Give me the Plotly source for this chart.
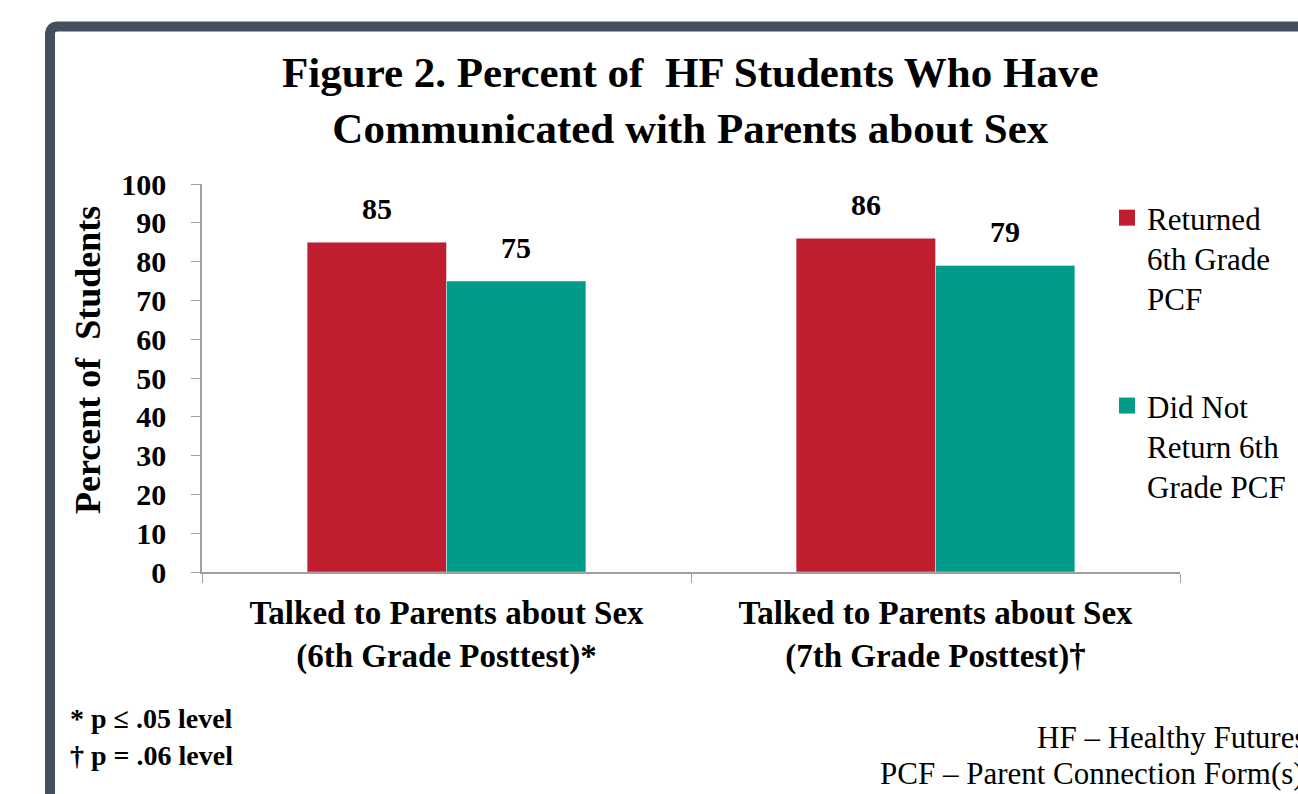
import plotly.graph_objects as go

categories = ["Talked to Parents about Sex<br>(6th Grade Posttest)*",
              "Talked to Parents about Sex<br>(7th Grade Posttest)\u2020"]
series_names = ["Returned<br>6th Grade<br>PCF", "Did Not<br>Return 6th<br>Grade PCF"]
returned = [85, 86]
not_returned = [75, 79]
colors = ["#BE1E2D", "#009B8B"]
ytickvals = [0, 10, 20, 30, 40, 50, 60, 70, 80, 90, 100]

SERIF = "serif"
W, H = 1298, 794
ML, MR, MT, MB = 202, 118, 184, 222
PW, PH = W - ML - MR, H - MT - MB
BARGAP = 0.43

def px_x(p):
    return (p - ML) / PW

def px_y(p):
    return (H - MB - p) / PH

fig = go.Figure()
for vals, name, col in [(returned, series_names[0], colors[0]),
                        (not_returned, series_names[1], colors[1])]:
    fig.add_trace(go.Bar(
        x=categories, y=vals, name=name, marker_color=col,
        showlegend=False,
    ))
bar_w_px = PW / len(categories) * (1 - BARGAP) / 2
for k, vals in enumerate([returned, not_returned]):
    for cat, v in zip(categories, vals):
        fig.add_annotation(x=cat, y=v, text=str(v), showarrow=False,
                           xshift=(k - 0.5) * bar_w_px, yshift=15, yanchor="bottom",
                           font=dict(family=SERIF, size=30, color="black", weight="bold"))
for i, (name, col) in enumerate(zip(series_names, colors)):
    fig.add_trace(go.Scatter(
        x=[None], y=[None], mode="markers", name=name,
        marker=dict(symbol="square", size=19, color=col),
        legendgroup=f"g{i}", showlegend=True,
    ))

# frame
x0 = px_x(50); yt = px_y(26.5); r = 8
fig.add_shape(type="path", xref="paper", yref="paper",
              path=(f"M {x0},{px_y(800)} L {x0},{px_y(26.5 + r)} "
                    f"Q {x0},{yt} {px_x(50 + r)},{yt} L {px_x(1310)},{yt}"),
              line=dict(color="#434F5C", width=10))

fig.add_annotation(x=px_x(690), y=px_y(100), xref="paper", yref="paper",
                   text="Figure 2. Percent of  HF Students Who Have<br>Communicated with Parents about Sex",
                   showarrow=False, xanchor="center", yanchor="middle",
                   font=dict(family=SERIF, size=43, color="black", weight="bold"))
fig.add_annotation(x=px_x(88), y=px_y(360), xref="paper", yref="paper",
                   text="Percent of  Students", textangle=-90,
                   showarrow=False, xanchor="center", yanchor="middle",
                   font=dict(family=SERIF, size=36, color="black", weight="bold"))
fig.add_annotation(x=px_x(68), y=px_y(718), xref="paper", yref="paper",
                   text="* p \u2264 .05 level", showarrow=False,
                   xanchor="left", yanchor="middle",
                   font=dict(family=SERIF, size=28, color="black", weight="bold"))
fig.add_annotation(x=px_x(68), y=px_y(755), xref="paper", yref="paper",
                   text="\u2020 p = .06 level", showarrow=False,
                   xanchor="left", yanchor="middle",
                   font=dict(family=SERIF, size=28, color="black", weight="bold"))
fig.add_annotation(x=px_x(1035), y=px_y(737), xref="paper", yref="paper",
                   text="HF \u2013 Healthy Futures", showarrow=False,
                   xanchor="left", yanchor="middle",
                   font=dict(family=SERIF, size=31, color="black"))
fig.add_annotation(x=px_x(878), y=px_y(773), xref="paper", yref="paper",
                   text="PCF \u2013 Parent Connection Form(s)", showarrow=False,
                   xanchor="left", yanchor="middle",
                   font=dict(family=SERIF, size=31, color="black"))

fig.update_layout(
    width=W, height=H,
    margin=dict(l=ML, r=MR, t=MT, b=MB, autoexpand=False),
    paper_bgcolor="white", plot_bgcolor="white",
    barmode="group", bargap=BARGAP, bargroupgap=0,
    legend=dict(x=px_x(1107), y=px_y(191), xanchor="left", yanchor="top",
                valign="top", tracegroupgap=64, traceorder="grouped",
                font=dict(family=SERIF, size=31, color="black"),
                bgcolor="rgba(0,0,0,0)"),
    font=dict(family=SERIF, color="black"),
)
fig.update_xaxes(type="category", tickson="boundaries", ticks="outside", ticklen=9,
                 tickcolor="#A0A0A0", showline=True, linecolor="#A0A0A0", linewidth=1.5,
                 ticklabelstandoff=11,
                 tickfont=dict(family=SERIF, size=33, color="black", weight="bold"),
                 showgrid=False)
fig.update_yaxes(range=[0, 100], tickvals=ytickvals, ticks="outside", ticklen=9,
                 tickcolor="#A0A0A0", showline=True, linecolor="#A0A0A0", linewidth=1.5,
                 ticklabelstandoff=19,
                 showgrid=False, zeroline=False,
                 tickfont=dict(family=SERIF, size=30, color="black", weight="bold"))

fig.write_html("out.html")
